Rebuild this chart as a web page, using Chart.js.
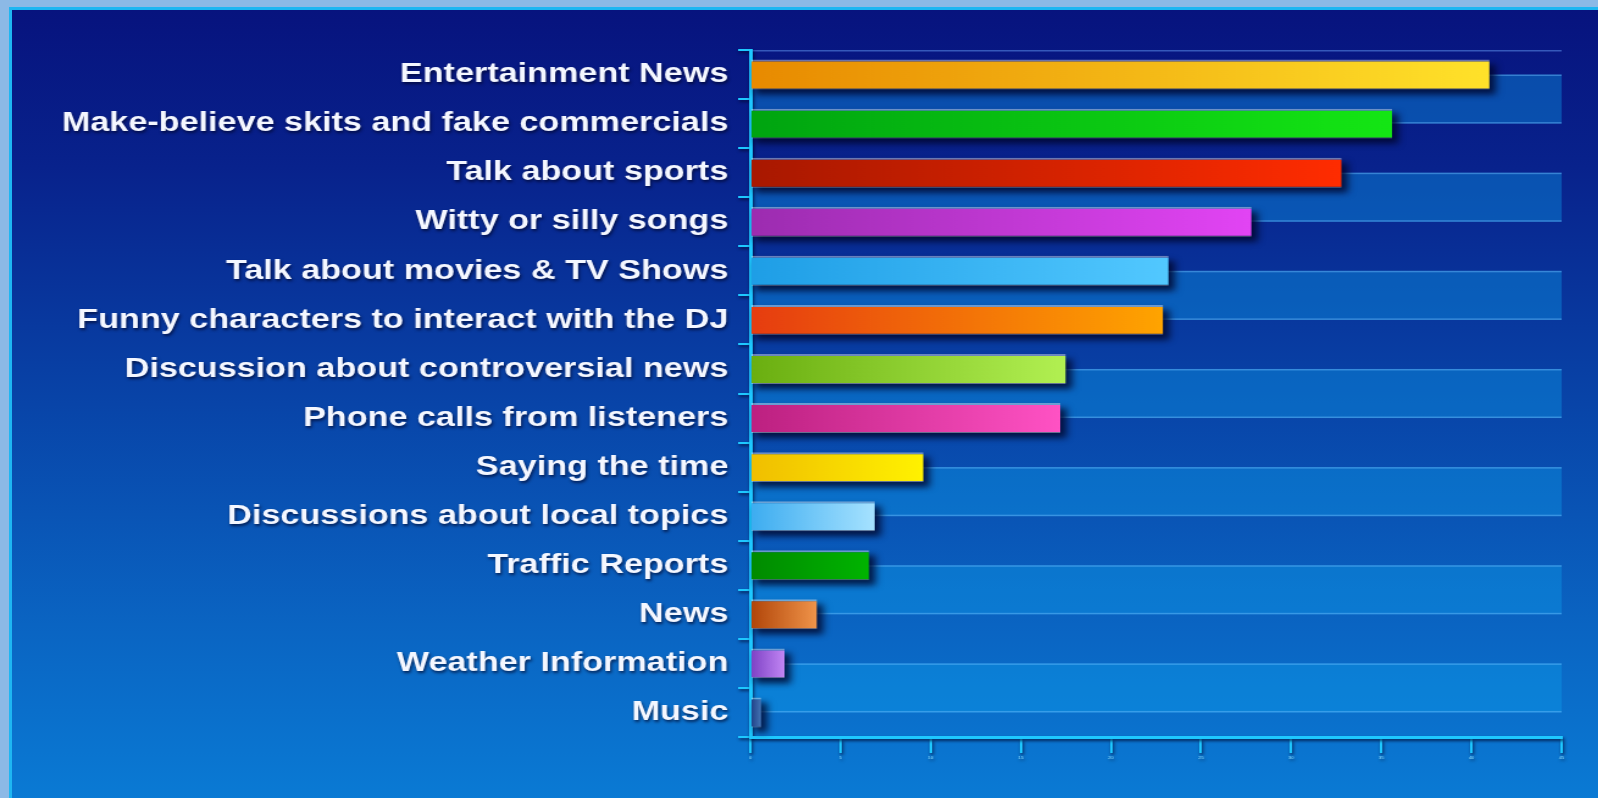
<!DOCTYPE html>
<html>
<head>
<meta charset="utf-8">
<script src="https://cdn.jsdelivr.net/npm/chart.js@4/dist/chart.umd.min.js"></script>
<style>
  html, body { margin: 0; padding: 0; }
  body { width: 1598px; height: 798px; overflow: hidden; position: relative; background: #8cb9e6; }
  #frame {
    position: absolute; left: 9px; top: 7px; right: 0; bottom: 0;
    border-left: 3px solid #1eb6f2; border-top: 3px solid #1eb6f2;
    background: linear-gradient(to bottom, #07137e 0%, #08228c 20%, #0844a8 50%, #0a64c2 78%, #0a7ad4 100%);
  }
  /* the slide is drawn at a narrower width and widened horizontally */
  #wrap {
    position: absolute; left: 0; top: 0; width: 1310px; height: 798px;
    transform: scaleX(1.22); transform-origin: 0 0;
  }
</style>
</head>
<body>
<div id="frame"></div>
<div id="wrap"><canvas id="c"></canvas></div>
<script>
// What listeners want to hear between songs
const categories = [
  'Entertainment News',
  'Make-believe skits and fake commercials',
  'Talk about sports',
  'Witty or silly songs',
  'Talk about movies & TV Shows',
  'Funny characters to interact with the DJ',
  'Discussion about controversial news',
  'Phone calls from listeners',
  'Saying the time',
  'Discussions about local topics',
  'Traffic Reports',
  'News',
  'Weather Information',
  'Music'
];
const values = [41.0, 35.6, 32.8, 27.8, 23.2, 22.9, 17.5, 17.2, 9.6, 6.9, 6.6, 3.7, 1.9, 0.6];

// each bar runs from a darker left colour to a brighter right colour
const barStartColors = ['#e88a00', '#00a410', '#a81800', '#9c2cb0', '#1e9ee6', '#e63c10', '#6aae10', '#bc2080', '#f0be00', '#3cacf0', '#008a00', '#b04408', '#7c40c4', '#1c3c84'];
const barEndColors   = ['#ffe22a', '#14e614', '#ff2c00', '#e244f4', '#52c8ff', '#ffa400', '#b2f052', '#ff52c4', '#fff200', '#a6e2ff', '#00b400', '#f0944a', '#c286f4', '#4474b4'];

const xTicks = { min: 0, max: 45, step: 5 };

const axisCyan = '#1ec8ff';

function barFill(ctx) {
  const i = ctx.dataIndex;
  const chart = ctx.chart;
  if (!chart.chartArea || ctx.type !== 'data') return barStartColors[i];
  const xs = chart.scales.x;
  const x0 = xs.getPixelForValue(0);
  const x1 = Math.max(xs.getPixelForValue(ctx.raw), x0 + 1);
  const g = chart.ctx.createLinearGradient(x0, 0, x1, 0);
  g.addColorStop(0, barStartColors[i]);
  g.addColorStop(1, barEndColors[i]);
  return g;
}

// lighter stripes between neighbouring category centres, then a soft
// shadow for the axis text that follows
const stripes = {
  id: 'stripes',
  beforeDraw(chart) {
    const { ctx, chartArea: a, scales } = chart;
    const ys = scales.y;
    const edges = [a.top];
    for (let i = 0; i < categories.length; i++) edges.push(ys.getPixelForValue(i));
    edges.push(a.bottom);
    ctx.save();
    for (let s = 1; s < edges.length - 1; s += 2) {
      const y0 = edges[s], y1 = edges[s + 1];
      ctx.fillStyle = 'rgba(12,160,236,0.38)';
      ctx.fillRect(a.left, y0, a.right - a.left, y1 - y0);
      ctx.fillStyle = 'rgba(110,190,255,0.45)';
      ctx.fillRect(a.left, y0, a.right - a.left, 1.5);
      ctx.fillRect(a.left, y1 - 1.5, a.right - a.left, 1.5);
    }
    ctx.fillStyle = 'rgba(110,170,255,0.45)';
    ctx.fillRect(a.left, a.top, a.right - a.left, 1.5);
    ctx.restore();

    ctx.save();
    ctx.shadowColor = 'rgba(0,6,40,0.7)';
    ctx.shadowOffsetX = 1;
    ctx.shadowOffsetY = 2;
    ctx.shadowBlur = 3;
  }
};

// blurred dark block offset down and right of every bar
const barShadow = {
  id: 'barShadow',
  beforeDatasetsDraw(chart) {
    const ctx = chart.ctx;
    ctx.restore();
    const meta = chart.getDatasetMeta(0);
    ctx.save();
    ctx.filter = 'blur(3px)';
    ctx.fillStyle = 'rgba(0,4,40,0.8)';
    meta.data.forEach(bar => {
      const p = bar.getProps(['x', 'y', 'base', 'height'], true);
      ctx.fillRect(p.base + 3, p.y - p.height / 2 + 5, p.x - p.base + 2, p.height);
    });
    ctx.restore();
  }
};

new Chart(document.getElementById('c'), {
  type: 'bar',
  data: {
    labels: categories,
    datasets: [{
      data: values,
      backgroundColor: barFill,
      borderColor: 'rgba(255,255,255,0.4)',
      borderWidth: { top: 2, bottom: 1, left: 0, right: 0 },
      borderSkipped: false,
      barPercentage: 0.61,
      categoryPercentage: 1.0
    }]
  },
  options: {
    indexAxis: 'y',
    responsive: true,
    maintainAspectRatio: false,
    animation: false,
    layout: { padding: { left: 10, top: 50, right: 30, bottom: 0 } },
    plugins: {
      legend: { display: false },
      tooltip: { enabled: false }
    },
    scales: {
      y: {
        afterFit(axis) { axis.width = 605; },
        grid: {
          offset: true,
          drawOnChartArea: false,
          drawTicks: true,
          tickLength: 10,
          color: axisCyan,
          lineWidth: 2
        },
        border: { display: true, color: axisCyan, width: 3 },
        ticks: {
          color: '#f4f7ff',
          padding: 8,
          font: { family: '"Liberation Sans", Arial, sans-serif', weight: 'bold', size: 28 }
        }
      },
      x: {
        min: xTicks.min,
        max: xTicks.max,
        afterFit(axis) { axis.height = 61; },
        grid: {
          drawOnChartArea: false,
          drawTicks: true,
          tickLength: 16,
          color: axisCyan,
          lineWidth: 2
        },
        border: { display: true, color: axisCyan, width: 3 },
        ticks: {
          stepSize: xTicks.step,
          color: '#8fe0ff',
          padding: 2,
          font: { family: '"Liberation Sans", Arial, sans-serif', size: 4 }
        }
      }
    }
  },
  plugins: [stripes, barShadow]
});
</script>
</body>
</html>
